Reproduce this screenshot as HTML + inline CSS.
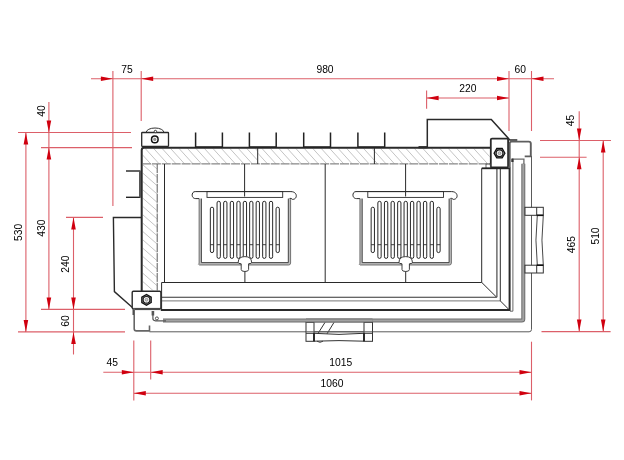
<!DOCTYPE html>
<html><head><meta charset="utf-8"><style>
html,body{margin:0;padding:0;background:#fff;}
svg{display:block;font-family:"Liberation Sans",sans-serif;will-change:transform;}
</style></head><body>
<svg width="624" height="460" viewBox="0 0 624 460">
<rect width="624" height="460" fill="#fff"/>
<line x1="91" y1="78.8" x2="554" y2="78.8" stroke="#dc5f69" stroke-width="1.1"/>
<line x1="112.9" y1="71" x2="112.9" y2="206" stroke="#dc5f69" stroke-width="1.1"/>
<line x1="141.2" y1="71" x2="141.2" y2="121" stroke="#dc5f69" stroke-width="1.1"/>
<line x1="509.0" y1="71" x2="509.0" y2="131" stroke="#dc5f69" stroke-width="1.1"/>
<line x1="531.5" y1="71" x2="531.5" y2="131" stroke="#dc5f69" stroke-width="1.1"/>
<polygon points="112.90,78.80 100.90,76.50 100.90,81.10" fill="#d0000f"/>
<polygon points="141.20,78.80 153.20,76.50 153.20,81.10" fill="#d0000f"/>
<polygon points="509.00,78.80 497.00,76.50 497.00,81.10" fill="#d0000f"/>
<polygon points="531.50,78.80 543.50,76.50 543.50,81.10" fill="#d0000f"/>
<text x="127" y="69.3" text-anchor="middle" dominant-baseline="central" font-size="10.3">75</text>
<text x="325" y="69.3" text-anchor="middle" dominant-baseline="central" font-size="10.3">980</text>
<text x="520.3" y="69.4" text-anchor="middle" dominant-baseline="central" font-size="10.3">60</text>
<line x1="426.7" y1="98" x2="509.0" y2="98" stroke="#dc5f69" stroke-width="1.1"/>
<line x1="426.6" y1="90.4" x2="426.6" y2="108.8" stroke="#dc5f69" stroke-width="1.1"/>
<polygon points="426.60,98.00 438.60,95.70 438.60,100.30" fill="#d0000f"/>
<polygon points="509.00,98.00 497.00,95.70 497.00,100.30" fill="#d0000f"/>
<text x="467.8" y="88.4" text-anchor="middle" dominant-baseline="central" font-size="10.3">220</text>
<line x1="18" y1="132.5" x2="131" y2="132.5" stroke="#dc5f69" stroke-width="1.1"/>
<line x1="41" y1="147.6" x2="132" y2="147.6" stroke="#dc5f69" stroke-width="1.1"/>
<line x1="66" y1="217.4" x2="103" y2="217.4" stroke="#dc5f69" stroke-width="1.1"/>
<line x1="41" y1="309.4" x2="125" y2="309.4" stroke="#dc5f69" stroke-width="1.1"/>
<line x1="18" y1="331.9" x2="125" y2="331.9" stroke="#dc5f69" stroke-width="1.1"/>
<line x1="25.9" y1="132.5" x2="25.9" y2="331.9" stroke="#dc5f69" stroke-width="1.1"/>
<polygon points="25.90,132.50 23.60,144.50 28.20,144.50" fill="#d0000f"/>
<polygon points="25.90,331.90 23.60,319.90 28.20,319.90" fill="#d0000f"/>
<line x1="48.9" y1="102" x2="48.9" y2="309.4" stroke="#dc5f69" stroke-width="1.1"/>
<polygon points="48.90,132.50 46.60,120.50 51.20,120.50" fill="#d0000f"/>
<polygon points="48.90,147.60 46.60,159.60 51.20,159.60" fill="#d0000f"/>
<polygon points="48.90,309.40 46.60,297.40 51.20,297.40" fill="#d0000f"/>
<line x1="73.5" y1="217.4" x2="73.5" y2="354.5" stroke="#dc5f69" stroke-width="1.1"/>
<polygon points="73.50,217.40 71.20,229.40 75.80,229.40" fill="#d0000f"/>
<polygon points="73.50,309.40 71.20,297.40 75.80,297.40" fill="#d0000f"/>
<polygon points="73.50,331.90 71.20,343.90 75.80,343.90" fill="#d0000f"/>
<text x="0" y="0" transform="translate(41,111) rotate(-90)" text-anchor="middle" dominant-baseline="central" font-size="10.3">40</text>
<text x="0" y="0" transform="translate(18,232.4) rotate(-90)" text-anchor="middle" dominant-baseline="central" font-size="10.3">530</text>
<text x="0" y="0" transform="translate(41,228.2) rotate(-90)" text-anchor="middle" dominant-baseline="central" font-size="10.3">430</text>
<text x="0" y="0" transform="translate(65.7,264.2) rotate(-90)" text-anchor="middle" dominant-baseline="central" font-size="10.3">240</text>
<text x="0" y="0" transform="translate(65.7,321) rotate(-90)" text-anchor="middle" dominant-baseline="central" font-size="10.3">60</text>
<line x1="133.8" y1="340.6" x2="133.8" y2="400.4" stroke="#dc5f69" stroke-width="1.1"/>
<line x1="150.7" y1="340.6" x2="150.7" y2="379.6" stroke="#dc5f69" stroke-width="1.1"/>
<line x1="531.5" y1="341.7" x2="531.5" y2="400.4" stroke="#dc5f69" stroke-width="1.1"/>
<line x1="103.3" y1="372.2" x2="531.5" y2="372.2" stroke="#dc5f69" stroke-width="1.1"/>
<line x1="133.8" y1="393.2" x2="531.5" y2="393.2" stroke="#dc5f69" stroke-width="1.1"/>
<polygon points="133.80,372.20 121.80,369.90 121.80,374.50" fill="#d0000f"/>
<polygon points="150.70,372.20 162.70,369.90 162.70,374.50" fill="#d0000f"/>
<polygon points="531.50,372.20 519.50,369.90 519.50,374.50" fill="#d0000f"/>
<polygon points="133.80,393.20 145.80,390.90 145.80,395.50" fill="#d0000f"/>
<polygon points="531.50,393.20 519.50,390.90 519.50,395.50" fill="#d0000f"/>
<text x="112.2" y="362.5" text-anchor="middle" dominant-baseline="central" font-size="10.3">45</text>
<text x="340.8" y="362.5" text-anchor="middle" dominant-baseline="central" font-size="10.3">1015</text>
<text x="332" y="383.2" text-anchor="middle" dominant-baseline="central" font-size="10.3">1060</text>
<line x1="540" y1="140.5" x2="611" y2="140.5" stroke="#dc5f69" stroke-width="1.1"/>
<line x1="540" y1="157.2" x2="586.6" y2="157.2" stroke="#dc5f69" stroke-width="1.1"/>
<line x1="541.5" y1="331.6" x2="610.6" y2="331.6" stroke="#dc5f69" stroke-width="1.1"/>
<line x1="579.2" y1="111.3" x2="579.2" y2="331.6" stroke="#dc5f69" stroke-width="1.1"/>
<polygon points="579.20,140.50 576.90,128.50 581.50,128.50" fill="#d0000f"/>
<polygon points="579.20,157.20 576.90,169.20 581.50,169.20" fill="#d0000f"/>
<polygon points="579.20,331.60 576.90,319.60 581.50,319.60" fill="#d0000f"/>
<line x1="603.2" y1="140.5" x2="603.2" y2="331.6" stroke="#dc5f69" stroke-width="1.1"/>
<polygon points="603.20,140.50 600.90,152.50 605.50,152.50" fill="#d0000f"/>
<polygon points="603.20,331.60 600.90,319.60 605.50,319.60" fill="#d0000f"/>
<text x="0" y="0" transform="translate(570.5,120.5) rotate(-90)" text-anchor="middle" dominant-baseline="central" font-size="10.3">45</text>
<text x="0" y="0" transform="translate(571,244.6) rotate(-90)" text-anchor="middle" dominant-baseline="central" font-size="10.3">465</text>
<text x="0" y="0" transform="translate(595.5,236) rotate(-90)" text-anchor="middle" dominant-baseline="central" font-size="10.3">510</text>
<clipPath id="c142"><rect x="142.6" y="148.6" width="114.6" height="14.8"/></clipPath>
<path d="M127.80,148 L142.35,164 M136.27,148 L150.82,164 M144.74,148 L159.29,164 M153.21,148 L167.76,164 M161.68,148 L176.23,164 M170.15,148 L184.70,164 M178.62,148 L193.17,164 M187.09,148 L201.64,164 M195.56,148 L210.11,164 M204.03,148 L218.58,164 M212.50,148 L227.05,164 M220.97,148 L235.52,164 M229.44,148 L243.99,164 M237.91,148 L252.46,164 M246.38,148 L260.93,164 M254.85,148 L269.40,164" stroke="#b9b9b9" stroke-width="0.85" fill="none" clip-path="url(#c142)"/>
<clipPath id="c258"><rect x="258.2" y="148.6" width="115.69999999999999" height="14.8"/></clipPath>
<path d="M244.60,148 L259.15,164 M253.07,148 L267.62,164 M261.54,148 L276.09,164 M270.01,148 L284.56,164 M278.48,148 L293.03,164 M286.95,148 L301.50,164 M295.42,148 L309.97,164 M303.89,148 L318.44,164 M312.36,148 L326.91,164 M320.83,148 L335.38,164 M329.30,148 L343.85,164 M337.77,148 L352.32,164 M346.24,148 L360.79,164 M354.71,148 L369.26,164 M363.18,148 L377.73,164 M371.65,148 L386.20,164" stroke="#b9b9b9" stroke-width="0.85" fill="none" clip-path="url(#c258)"/>
<clipPath id="c374"><rect x="374.9" y="148.6" width="114.70000000000005" height="14.8"/></clipPath>
<path d="M363.18,148 L377.73,164 M371.65,148 L386.20,164 M380.12,148 L394.67,164 M388.59,148 L403.14,164 M397.06,148 L411.61,164 M405.53,148 L420.08,164 M414.00,148 L428.55,164 M422.47,148 L437.02,164 M430.94,148 L445.49,164 M439.41,148 L453.96,164 M447.88,148 L462.43,164 M456.35,148 L470.90,164 M464.82,148 L479.37,164 M473.29,148 L487.84,164 M481.76,148 L496.31,164 M490.23,148 L504.78,164" stroke="#b9b9b9" stroke-width="0.85" fill="none" clip-path="url(#c374)"/>
<clipPath id="cl"><rect x="142.8" y="164.4" width="14" height="126"/></clipPath>
<path d="M142,80.68 L158,94.76 M142,89.02 L158,103.10 M142,97.36 L158,111.44 M142,105.70 L158,119.78 M142,114.04 L158,128.12 M142,122.38 L158,136.46 M142,130.72 L158,144.80 M142,139.06 L158,153.14 M142,147.40 L158,161.48 M142,155.74 L158,169.82 M142,164.08 L158,178.16 M142,172.42 L158,186.50 M142,180.76 L158,194.84 M142,189.10 L158,203.18 M142,197.44 L158,211.52 M142,205.78 L158,219.86 M142,214.12 L158,228.20 M142,222.46 L158,236.54 M142,230.80 L158,244.88 M142,239.14 L158,253.22 M142,247.48 L158,261.56 M142,255.82 L158,269.90 M142,264.16 L158,278.24 M142,272.50 L158,286.58 M142,280.84 L158,294.92 M142,289.18 L158,303.26 M142,297.52 L158,311.60 M142,305.86 L158,319.94 M142,314.20 L158,328.28 M142,322.54 L158,336.62" stroke="#b9b9b9" stroke-width="0.85" fill="none" clip-path="url(#cl)"/>
<path d="M141.7,291 V150.2 Q141.7,147.8 144.1,147.8 H490.5" stroke="#2a2a2a" stroke-width="2" fill="none" />
<line x1="142" y1="163.9" x2="490" y2="163.9" stroke="#6a6a6a" stroke-width="1" stroke-dasharray="9,0.9"/>
<line x1="157.2" y1="164" x2="157.2" y2="290.5" stroke="#5a5a5a" stroke-width="1" stroke-dasharray="9,0.9"/>
<line x1="257.7" y1="148" x2="257.7" y2="164" stroke="#2a2a2a" stroke-width="1"/>
<line x1="374.4" y1="148" x2="374.4" y2="164" stroke="#2a2a2a" stroke-width="1"/>
<line x1="164.5" y1="164" x2="164.5" y2="282.5" stroke="#2a2a2a" stroke-width="1"/>
<line x1="244.6" y1="164" x2="244.6" y2="196.5" stroke="#2a2a2a" stroke-width="1"/>
<line x1="325.2" y1="164" x2="325.2" y2="282.5" stroke="#2a2a2a" stroke-width="1"/>
<line x1="405.6" y1="164" x2="405.6" y2="196.5" stroke="#2a2a2a" stroke-width="1"/>
<path d="M195.6,132.5 V147 H222.4 V132.5" stroke="#222" stroke-width="1.5" fill="none" />
<path d="M249.4,132.5 V147 H276.2 V132.5" stroke="#222" stroke-width="1.5" fill="none" />
<path d="M303.7,132.5 V147 H330.5 V132.5" stroke="#222" stroke-width="1.5" fill="none" />
<path d="M357.9,132.5 V147 H384.7 V132.5" stroke="#222" stroke-width="1.5" fill="none" />
<path d="M126,171 H140.5" stroke="#222" stroke-width="1.4" fill="none" />
<path d="M126,197.3 H140.5" stroke="#222" stroke-width="1.4" fill="none" />
<line x1="140" y1="171" x2="140" y2="197.3" stroke="#555" stroke-width="2"/>
<path d="M141,217.5 H113.4 L114.4,291.6 L133.3,308.3 V315" stroke="#2a2a2a" stroke-width="1.4" fill="none" />
<rect x="141.7" y="132.5" width="26.8" height="13.8" stroke="#2a2a2a" stroke-width="1.3" fill="#fff" rx="0.6"/>
<path d="M146.2,132.4 A8.85,4.4 0 0 1 163.9,132.4" stroke="#333" stroke-width="1" fill="none" />
<circle cx="155.4" cy="131.5" r="1.2" stroke="#222" stroke-width="0.9" fill="#fff"/>
<circle cx="154.8" cy="139.4" r="3.3" stroke="#111" stroke-width="1.5" fill="#fff"/>
<circle cx="154.8" cy="139.4" r="1.3" stroke="#777" stroke-width="0.6" fill="#999"/>
<path d="M427.3,147.7 V119.6 H491.3 L509.9,140.1 H517.3" stroke="#2a2a2a" stroke-width="1.5" fill="none" />
<line x1="418.5" y1="147.2" x2="427.3" y2="147.2" stroke="#2a2a2a" stroke-width="2.2"/>
<rect x="490.8" y="138.6" width="17.3" height="28.8" stroke="#2a2a2a" stroke-width="1.8" fill="#fff" rx="1.2"/>
<polygon points="504.90,153.20 502.20,157.88 496.80,157.88 494.10,153.20 496.80,148.52 502.20,148.52" stroke="#111" stroke-width="1.3" fill="#9a9a9a"/>
<circle cx="499.5" cy="153.2" r="3.35" stroke="#1a1a1a" stroke-width="1.1" fill="#fff"/>
<circle cx="499.5" cy="153.2" r="1.46" stroke="#888" stroke-width="0.8" fill="#ccc"/>
<rect x="486" y="164" width="4.5" height="4.3" stroke="#444" stroke-width="0.8" fill="none" rx="0"/>
<rect x="132.2" y="291.2" width="28.7" height="17.6" stroke="#2a2a2a" stroke-width="1.4" fill="#fff" rx="1.2"/>
<line x1="133" y1="309.0" x2="160.4" y2="309.0" stroke="#4a4a4a" stroke-width="2.2"/>
<polygon points="151.18,302.50 146.50,305.20 141.82,302.50 141.82,297.10 146.50,294.40 151.18,297.10" stroke="#111" stroke-width="1.3" fill="#9a9a9a"/>
<circle cx="146.5" cy="299.8" r="3.35" stroke="#1a1a1a" stroke-width="1.1" fill="#fff"/>
<circle cx="146.5" cy="299.8" r="1.46" stroke="#888" stroke-width="0.8" fill="#ccc"/>
<line x1="161.6" y1="282.5" x2="481.7" y2="282.5" stroke="#2a2a2a" stroke-width="1"/>
<line x1="161.6" y1="297.2" x2="496.6" y2="297.2" stroke="#333" stroke-width="1.1"/>
<line x1="161.6" y1="300.9" x2="500.3" y2="300.9" stroke="#777" stroke-width="1"/>
<line x1="160.8" y1="310" x2="509.6" y2="310" stroke="#2a2a2a" stroke-width="2"/>
<line x1="161.6" y1="282.5" x2="161.6" y2="310" stroke="#2a2a2a" stroke-width="1"/>
<line x1="481.7" y1="168.3" x2="481.7" y2="282.5" stroke="#2a2a2a" stroke-width="1"/>
<line x1="496.9" y1="168.3" x2="496.9" y2="297.2" stroke="#555" stroke-width="1.3"/>
<line x1="500.3" y1="168.3" x2="500.3" y2="300.9" stroke="#2a2a2a" stroke-width="1"/>
<line x1="481.7" y1="168.3" x2="509.6" y2="168.3" stroke="#222" stroke-width="1.8"/>
<line x1="481.7" y1="282.4" x2="496.6" y2="297.2" stroke="#2a2a2a" stroke-width="1"/>
<line x1="500.3" y1="300.9" x2="509.4" y2="310" stroke="#2a2a2a" stroke-width="1"/>
<line x1="509.6" y1="167.5" x2="509.6" y2="311" stroke="#2a2a2a" stroke-width="2"/>
<path d="M512.9,158.8 V311.2 H510" stroke="#666" stroke-width="1" fill="none" />
<path d="M163,320.4 H521.8 Q523.3,320.4 523.3,318.9 V163.8" stroke="#6e6e6e" stroke-width="4.0" fill="none" />
<path d="M163,320.4 H521.8 Q523.3,320.4 523.3,318.9 V163.8" stroke="#a2a2a2" stroke-width="2.0" fill="none" />
<path d="M152.9,311 V318.5 Q152.9,320.6 155.5,320.8 H166" stroke="#555" stroke-width="1.2" fill="none" />
<line x1="152.9" y1="311" x2="152.9" y2="315.5" stroke="#555" stroke-width="2.6"/>
<path d="M512.5,162 V159.2 H523.9 V164" stroke="#6a6a6a" stroke-width="1.3" fill="none" />
<line x1="512.4" y1="158.6" x2="512.4" y2="162" stroke="#333" stroke-width="2.2"/>
<path d="M509.7,168 V143.6 Q509.7,141.6 511.7,141.6 H528.8 Q530.8,141.6 530.8,143.6 V156.4 H524.7" stroke="#5e5e5e" stroke-width="1.9" fill="none" />
<path d="M149.5,331.8 H529.1 Q531.5,331.8 531.5,329.4 V155.9" stroke="#5a5a5a" stroke-width="1" fill="none" />
<path d="M134.2,308.5 V328.8 Q134.2,330.9 136.3,330.9 H149.5 V325.5" stroke="#666" stroke-width="1.6" fill="none" />
<circle cx="156.9" cy="318.4" r="1.5" stroke="#2a2a2a" stroke-width="0.8" fill="#fff"/>
<rect x="306" y="322.4" width="8" height="18.9" stroke="#333" stroke-width="1" fill="#fff" rx="0"/>
<rect x="364" y="322.4" width="8.5" height="18.9" stroke="#333" stroke-width="1" fill="#fff" rx="0"/>
<line x1="306" y1="333.3" x2="314" y2="333.3" stroke="#333" stroke-width="1"/>
<line x1="364" y1="333.3" x2="372.5" y2="333.3" stroke="#333" stroke-width="1"/>
<path d="M314,333.3 Q339,335.5 364,333.3 M314,341.2 Q339,340 364,341.2" stroke="#333" stroke-width="1" fill="none" />
<path d="M318,333.5 L325,322.4 M327,333.8 L334,322.4" stroke="#333" stroke-width="1" fill="none" />
<path d="M317,341.2 Q320,343.5 323,341.2" stroke="#333" stroke-width="0.9" fill="none" />
<line x1="314" y1="333.3" x2="314" y2="341.3" stroke="#111" stroke-width="1.6"/>
<line x1="364" y1="333.3" x2="364" y2="341.3" stroke="#111" stroke-width="1.6"/>
<line x1="306" y1="320.4" x2="372.5" y2="320.4" stroke="#6e6e6e" stroke-width="4.0"/>
<line x1="306" y1="320.4" x2="372.5" y2="320.4" stroke="#a2a2a2" stroke-width="2.0"/>
<line x1="306" y1="331.8" x2="372.5" y2="331.8" stroke="#5a5a5a" stroke-width="1"/>
<rect x="525" y="207.3" width="18.3" height="8" stroke="#333" stroke-width="1" fill="#fff" rx="0"/>
<rect x="525" y="265.2" width="18.3" height="7.8" stroke="#333" stroke-width="1" fill="#fff" rx="0"/>
<line x1="536.7" y1="207.3" x2="536.7" y2="215.3" stroke="#333" stroke-width="1"/>
<line x1="536.7" y1="265.2" x2="536.7" y2="273" stroke="#333" stroke-width="1"/>
<path d="M537.3,215.3 Q534.6,240 537.3,265.2 M543.3,215.3 Q540.6,240 543.3,265.2" stroke="#333" stroke-width="0.9" fill="none" />
<line x1="536.7" y1="215.3" x2="543.3" y2="215.3" stroke="#111" stroke-width="1.6"/>
<line x1="536.7" y1="265.2" x2="543.3" y2="265.2" stroke="#111" stroke-width="1.6"/>
<path d="M200.30,198.6 V263.8 H288.40 Q289.40,263.8 289.40,262.8 V198.6" stroke="#bdbdbd" stroke-width="2.3" fill="none" />
<path d="M201.40,198.6 V262.6 H288.30 V198.6" stroke="#333" stroke-width="0.9" fill="none" />
<path d="M199.10,198.6 V263.4 L198.40,264.2 L199.60,265 H288.60 Q290.60,265 290.60,263 V199.2" stroke="#555" stroke-width="0.8" fill="none" />
<path d="M195.20,191.6 H290.90 C297.80,191.6 297.80,199.4 292.50,199.4 L291.00,198.4 H289.60" stroke="#2a2a2a" stroke-width="1" fill="none" />
<path d="M199.10,198.6 H195.80 C191.00,198.7 191.00,191.6 195.20,191.6" stroke="#2a2a2a" stroke-width="1" fill="none" />
<rect x="207" y="191.6" width="75.7" height="5.8" stroke="#2a2a2a" stroke-width="0.9" fill="none" rx="0"/>
<rect x="210.35" y="207.2" width="3.3" height="45.4" rx="1.65" stroke="#1e1e1e" stroke-width="0.95" fill="none"/>
<line x1="210.35" y1="244.7" x2="213.65" y2="244.7" stroke="#2a2a2a" stroke-width="0.9"/>
<rect x="217.05" y="201.3" width="3.3" height="57.1" rx="1.65" stroke="#1e1e1e" stroke-width="0.95" fill="none"/>
<line x1="217.04999999999998" y1="244.7" x2="220.35" y2="244.7" stroke="#2a2a2a" stroke-width="0.9"/>
<rect x="223.65" y="201.3" width="3.3" height="57.1" rx="1.65" stroke="#1e1e1e" stroke-width="0.95" fill="none"/>
<line x1="223.65" y1="244.7" x2="226.95000000000002" y2="244.7" stroke="#2a2a2a" stroke-width="0.9"/>
<rect x="230.25" y="201.3" width="3.3" height="57.1" rx="1.65" stroke="#1e1e1e" stroke-width="0.95" fill="none"/>
<line x1="230.25" y1="244.7" x2="233.55" y2="244.7" stroke="#2a2a2a" stroke-width="0.9"/>
<rect x="236.85" y="201.3" width="3.3" height="57.1" rx="1.65" stroke="#1e1e1e" stroke-width="0.95" fill="none"/>
<line x1="236.85" y1="244.7" x2="240.15" y2="244.7" stroke="#2a2a2a" stroke-width="0.9"/>
<rect x="243.25" y="201.3" width="3.3" height="57.1" rx="1.65" stroke="#1e1e1e" stroke-width="0.95" fill="none"/>
<line x1="243.25" y1="244.7" x2="246.55" y2="244.7" stroke="#2a2a2a" stroke-width="0.9"/>
<rect x="249.65" y="201.3" width="3.3" height="57.1" rx="1.65" stroke="#1e1e1e" stroke-width="0.95" fill="none"/>
<line x1="249.65" y1="244.7" x2="252.95000000000002" y2="244.7" stroke="#2a2a2a" stroke-width="0.9"/>
<rect x="256.15" y="201.3" width="3.3" height="57.1" rx="1.65" stroke="#1e1e1e" stroke-width="0.95" fill="none"/>
<line x1="256.15000000000003" y1="244.7" x2="259.45" y2="244.7" stroke="#2a2a2a" stroke-width="0.9"/>
<rect x="262.65" y="201.3" width="3.3" height="57.1" rx="1.65" stroke="#1e1e1e" stroke-width="0.95" fill="none"/>
<line x1="262.65000000000003" y1="244.7" x2="265.95" y2="244.7" stroke="#2a2a2a" stroke-width="0.9"/>
<rect x="269.35" y="201.3" width="3.3" height="57.1" rx="1.65" stroke="#1e1e1e" stroke-width="0.95" fill="none"/>
<line x1="269.35" y1="244.7" x2="272.65" y2="244.7" stroke="#2a2a2a" stroke-width="0.9"/>
<rect x="276.05" y="207.2" width="3.3" height="45.4" rx="1.65" stroke="#1e1e1e" stroke-width="0.95" fill="none"/>
<line x1="276.05" y1="244.7" x2="279.34999999999997" y2="244.7" stroke="#2a2a2a" stroke-width="0.9"/>
<path d="M238.20,262.5 Q238.20,256.6 244.90,256.6 Q251.60,256.6 251.60,262.5 Q251.60,263.6 248.60,263.8 V269.5 Q248.60,271.5 244.90,271.5 Q241.20,271.5 241.20,269.5 V263.8 Q238.20,263.6 238.20,262.5 Z" stroke="#2a2a2a" stroke-width="0.9" fill="#fff" />
<line x1="244.9" y1="271.5" x2="244.9" y2="282.5" stroke="#2a2a2a" stroke-width="1"/>
<path d="M361.10,198.6 V263.8 H449.20 Q450.20,263.8 450.20,262.8 V198.6" stroke="#bdbdbd" stroke-width="2.3" fill="none" />
<path d="M362.20,198.6 V262.6 H449.10 V198.6" stroke="#333" stroke-width="0.9" fill="none" />
<path d="M359.90,198.6 V263.4 L359.20,264.2 L360.40,265 H449.40 Q451.40,265 451.40,263 V199.2" stroke="#555" stroke-width="0.8" fill="none" />
<path d="M356.00,191.6 H451.70 C458.60,191.6 458.60,199.4 453.30,199.4 L451.80,198.4 H450.40" stroke="#2a2a2a" stroke-width="1" fill="none" />
<path d="M359.90,198.6 H356.60 C351.80,198.7 351.80,191.6 356.00,191.6" stroke="#2a2a2a" stroke-width="1" fill="none" />
<rect x="367.8" y="191.6" width="75.7" height="5.8" stroke="#2a2a2a" stroke-width="0.9" fill="none" rx="0"/>
<rect x="371.15" y="207.2" width="3.3" height="45.4" rx="1.65" stroke="#1e1e1e" stroke-width="0.95" fill="none"/>
<line x1="371.15" y1="244.7" x2="374.45000000000005" y2="244.7" stroke="#2a2a2a" stroke-width="0.9"/>
<rect x="377.85" y="201.3" width="3.3" height="57.1" rx="1.65" stroke="#1e1e1e" stroke-width="0.95" fill="none"/>
<line x1="377.85" y1="244.7" x2="381.15" y2="244.7" stroke="#2a2a2a" stroke-width="0.9"/>
<rect x="384.45" y="201.3" width="3.3" height="57.1" rx="1.65" stroke="#1e1e1e" stroke-width="0.95" fill="none"/>
<line x1="384.45000000000005" y1="244.7" x2="387.75" y2="244.7" stroke="#2a2a2a" stroke-width="0.9"/>
<rect x="391.05" y="201.3" width="3.3" height="57.1" rx="1.65" stroke="#1e1e1e" stroke-width="0.95" fill="none"/>
<line x1="391.05" y1="244.7" x2="394.35" y2="244.7" stroke="#2a2a2a" stroke-width="0.9"/>
<rect x="397.65" y="201.3" width="3.3" height="57.1" rx="1.65" stroke="#1e1e1e" stroke-width="0.95" fill="none"/>
<line x1="397.65" y1="244.7" x2="400.95000000000005" y2="244.7" stroke="#2a2a2a" stroke-width="0.9"/>
<rect x="404.05" y="201.3" width="3.3" height="57.1" rx="1.65" stroke="#1e1e1e" stroke-width="0.95" fill="none"/>
<line x1="404.05" y1="244.7" x2="407.35" y2="244.7" stroke="#2a2a2a" stroke-width="0.9"/>
<rect x="410.45" y="201.3" width="3.3" height="57.1" rx="1.65" stroke="#1e1e1e" stroke-width="0.95" fill="none"/>
<line x1="410.45000000000005" y1="244.7" x2="413.75" y2="244.7" stroke="#2a2a2a" stroke-width="0.9"/>
<rect x="416.95" y="201.3" width="3.3" height="57.1" rx="1.65" stroke="#1e1e1e" stroke-width="0.95" fill="none"/>
<line x1="416.95000000000005" y1="244.7" x2="420.25" y2="244.7" stroke="#2a2a2a" stroke-width="0.9"/>
<rect x="423.45" y="201.3" width="3.3" height="57.1" rx="1.65" stroke="#1e1e1e" stroke-width="0.95" fill="none"/>
<line x1="423.45000000000005" y1="244.7" x2="426.75" y2="244.7" stroke="#2a2a2a" stroke-width="0.9"/>
<rect x="430.15" y="201.3" width="3.3" height="57.1" rx="1.65" stroke="#1e1e1e" stroke-width="0.95" fill="none"/>
<line x1="430.15000000000003" y1="244.7" x2="433.45" y2="244.7" stroke="#2a2a2a" stroke-width="0.9"/>
<rect x="436.85" y="207.2" width="3.3" height="45.4" rx="1.65" stroke="#1e1e1e" stroke-width="0.95" fill="none"/>
<line x1="436.85" y1="244.7" x2="440.15" y2="244.7" stroke="#2a2a2a" stroke-width="0.9"/>
<path d="M399.00,262.5 Q399.00,256.6 405.70,256.6 Q412.40,256.6 412.40,262.5 Q412.40,263.6 409.40,263.8 V269.5 Q409.40,271.5 405.70,271.5 Q402.00,271.5 402.00,269.5 V263.8 Q399.00,263.6 399.00,262.5 Z" stroke="#2a2a2a" stroke-width="0.9" fill="#fff" />
<line x1="405.70000000000005" y1="271.5" x2="405.70000000000005" y2="282.5" stroke="#2a2a2a" stroke-width="1"/>
</svg></body></html>
